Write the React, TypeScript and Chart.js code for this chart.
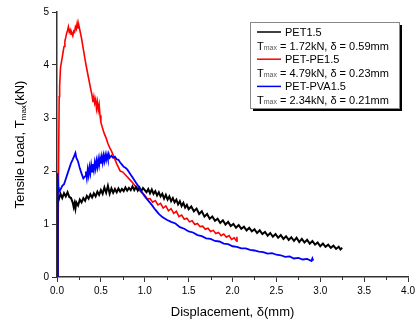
import React, { useEffect, useRef } from "react";
import { Chart, registerables } from "chart.js";

Chart.register(...registerables);

const FONT = "'Liberation Sans', Arial, sans-serif";

const seriesNames = ["PET1.5", "PET-PE1.5", "PET-PVA1.5"];
const seriesColors = ["#000000", "#ff0000", "#0000ff"];
const tmaxValues = ["1.72", "4.79", "2.34"];
const deltaValues = ["0.59", "0.23", "0.21"];

const petX = [0, 0.005, 0.01, 0.02, 0.04, 0.06, 0.08, 0.10, 0.12, 0.14, 0.16, 0.18, 0.19, 0.20, 0.21, 0.22, 0.24, 0.26, 0.28, 0.30, 0.32, 0.34, 0.36, 0.38, 0.40, 0.42, 0.44, 0.46, 0.48, 0.50, 0.52, 0.54, 0.56, 0.58, 0.60, 0.62, 0.64, 0.66, 0.68, 0.70, 0.72, 0.74, 0.76, 0.78, 0.80, 0.82, 0.84, 0.86, 0.88, 0.90, 0.92, 0.94, 0.96, 0.98, 1.00, 1.02, 1.04, 1.06, 1.08, 1.10, 1.12, 1.14, 1.16, 1.18, 1.20, 1.22, 1.24, 1.26, 1.28, 1.30, 1.32, 1.34, 1.36, 1.38, 1.40, 1.42, 1.44, 1.46, 1.48, 1.50, 1.53, 1.56, 1.59, 1.62, 1.65, 1.68, 1.71, 1.74, 1.77, 1.80, 1.83, 1.86, 1.89, 1.92, 1.95, 1.98, 2.01, 2.04, 2.07, 2.10, 2.13, 2.16, 2.19, 2.22, 2.25, 2.28, 2.31, 2.34, 2.37, 2.40, 2.43, 2.46, 2.49, 2.52, 2.55, 2.58, 2.61, 2.64, 2.67, 2.70, 2.73, 2.76, 2.79, 2.82, 2.85, 2.88, 2.91, 2.94, 2.97, 3.00, 3.03, 3.06, 3.09, 3.12, 3.15, 3.18, 3.21, 3.23, 3.25];
const petY = [0, 1.2, 1.52, 1.46, 1.57, 1.49, 1.58, 1.52, 1.60, 1.51, 1.49, 1.40, 1.32, 1.39, 1.29, 1.41, 1.35, 1.46, 1.41, 1.49, 1.44, 1.53, 1.48, 1.56, 1.50, 1.58, 1.52, 1.61, 1.55, 1.64, 1.57, 1.69, 1.59, 1.72, 1.57, 1.67, 1.59, 1.66, 1.60, 1.67, 1.61, 1.66, 1.62, 1.69, 1.63, 1.68, 1.64, 1.71, 1.64, 1.70, 1.63, 1.69, 1.62, 1.68, 1.64, 1.60, 1.66, 1.58, 1.65, 1.57, 1.62, 1.54, 1.60, 1.52, 1.57, 1.48, 1.55, 1.46, 1.52, 1.43, 1.49, 1.41, 1.46, 1.37, 1.43, 1.34, 1.40, 1.31, 1.36, 1.28, 1.33, 1.24, 1.29, 1.19, 1.24, 1.14, 1.19, 1.10, 1.14, 1.06, 1.10, 1.02, 1.07, 0.99, 1.04, 0.96, 1.00, 0.93, 0.98, 0.91, 0.95, 0.88, 0.93, 0.86, 0.90, 0.83, 0.88, 0.81, 0.85, 0.78, 0.83, 0.76, 0.81, 0.74, 0.79, 0.72, 0.77, 0.70, 0.75, 0.68, 0.74, 0.66, 0.72, 0.65, 0.70, 0.63, 0.68, 0.61, 0.65, 0.58, 0.63, 0.57, 0.61, 0.55, 0.59, 0.53, 0.57, 0.52, 0.55];

const pePeX = [0, 0.01, 0.02, 0.025, 0.03, 0.04, 0.05, 0.06, 0.07, 0.08, 0.09, 0.10, 0.11, 0.12, 0.13, 0.14, 0.15, 0.16, 0.17, 0.18, 0.19, 0.20, 0.21, 0.22, 0.23, 0.24, 0.25, 0.26, 0.28, 0.30, 0.32, 0.34, 0.36, 0.38, 0.40, 0.41, 0.42, 0.43, 0.44, 0.45, 0.46, 0.47, 0.48, 0.49, 0.50, 0.52, 0.54, 0.56, 0.58, 0.60, 0.62, 0.64, 0.66, 0.68, 0.70, 0.72, 0.75, 0.80, 0.85, 0.90, 0.95, 1.00, 1.03, 1.06, 1.09, 1.12, 1.15, 1.18, 1.21, 1.24, 1.27, 1.30, 1.33, 1.36, 1.39, 1.42, 1.45, 1.48, 1.51, 1.54, 1.57, 1.60, 1.63, 1.66, 1.69, 1.72, 1.75, 1.78, 1.81, 1.84, 1.87, 1.90, 1.93, 1.96, 1.99, 2.02, 2.04, 2.05, 2.052];
const pePeY = [0, 0.3, 2.5, 3.4, 3.6, 3.95, 4.05, 4.15, 4.25, 4.35, 4.45, 4.52, 4.60, 4.65, 4.72, 4.62, 4.66, 4.58, 4.60, 4.55, 4.64, 4.62, 4.72, 4.68, 4.79, 4.70, 4.74, 4.66, 4.50, 4.30, 4.10, 3.92, 3.75, 3.58, 3.42, 3.30, 3.40, 3.28, 3.35, 3.18, 3.30, 3.15, 3.25, 3.05, 2.92, 2.80, 2.70, 2.62, 2.52, 2.44, 2.38, 2.30, 2.22, 2.14, 2.07, 2.00, 1.98, 1.89, 1.80, 1.70, 1.62, 1.54, 1.47, 1.48, 1.41, 1.44, 1.36, 1.39, 1.30, 1.34, 1.25, 1.29, 1.20, 1.24, 1.14, 1.17, 1.09, 1.11, 1.04, 1.06, 0.99, 1.01, 0.95, 0.96, 0.90, 0.92, 0.86, 0.88, 0.82, 0.84, 0.78, 0.81, 0.75, 0.78, 0.71, 0.74, 0.69, 0.76, 0.66];

const pvaX = [0, 0.005, 0.01, 0.015, 0.02, 0.04, 0.06, 0.08, 0.10, 0.12, 0.14, 0.16, 0.18, 0.20, 0.21, 0.22, 0.24, 0.26, 0.28, 0.30, 0.32, 0.33, 0.34, 0.35, 0.36, 0.37, 0.38, 0.39, 0.40, 0.41, 0.42, 0.43, 0.44, 0.45, 0.46, 0.47, 0.48, 0.49, 0.50, 0.51, 0.52, 0.53, 0.54, 0.55, 0.56, 0.57, 0.58, 0.59, 0.60, 0.62, 0.64, 0.66, 0.68, 0.70, 0.72, 0.74, 0.76, 0.78, 0.80, 0.82, 0.84, 0.86, 0.88, 0.90, 0.92, 0.94, 0.96, 0.98, 1.00, 1.04, 1.08, 1.12, 1.16, 1.20, 1.25, 1.30, 1.35, 1.40, 1.45, 1.50, 1.55, 1.60, 1.65, 1.70, 1.75, 1.80, 1.85, 1.90, 1.95, 2.00, 2.05, 2.10, 2.15, 2.20, 2.25, 2.30, 2.35, 2.40, 2.45, 2.50, 2.55, 2.60, 2.65, 2.70, 2.75, 2.80, 2.85, 2.90, 2.91, 2.92];
const pvaY = [0, 1.0, 1.96, 1.70, 1.60, 1.65, 1.72, 1.75, 1.85, 1.95, 2.05, 2.15, 2.22, 2.30, 2.34, 2.25, 2.18, 2.05, 1.95, 1.86, 1.90, 1.99, 1.87, 2.03, 1.92, 2.07, 1.96, 2.11, 1.99, 2.13, 2.02, 2.16, 2.05, 2.19, 2.08, 2.22, 2.11, 2.24, 2.14, 2.27, 2.16, 2.29, 2.19, 2.30, 2.21, 2.31, 2.23, 2.32, 2.25, 2.29, 2.25, 2.27, 2.22, 2.21, 2.16, 2.12, 2.08, 2.06, 2.03, 1.98, 1.93, 1.88, 1.83, 1.78, 1.73, 1.67, 1.62, 1.57, 1.52, 1.44, 1.36, 1.27, 1.19, 1.13, 1.08, 1.04, 1.01, 0.94, 0.91, 0.86, 0.84, 0.79, 0.77, 0.73, 0.72, 0.68, 0.67, 0.63, 0.62, 0.58, 0.57, 0.54, 0.54, 0.51, 0.50, 0.48, 0.47, 0.44, 0.45, 0.42, 0.41, 0.38, 0.39, 0.35, 0.36, 0.33, 0.34, 0.30, 0.35, 0.31];

const xTickValues = [0, 0.5, 1.0, 1.5, 2.0, 2.5, 3.0, 3.5, 4.0];
const yTickValues = [0, 1, 2, 3, 4, 5];
const xMinorTicks = [0.25, 0.75, 1.25, 1.75, 2.25, 2.75, 3.25, 3.75];

const toPoints = (xs: number[], ys: number[]) => xs.map((x, i) => ({ x, y: ys[i] }));

const AXIS_COLOR = "#333333";

const drawSubText = (
  ctx: CanvasRenderingContext2D,
  parts: { t: string; size: number; sub?: boolean; color?: string }[],
  x: number,
  y: number,
  align: "left" | "center"
) => {
  let total = 0;
  parts.forEach((p) => {
    ctx.font = `${p.size}px ${FONT}`;
    total += ctx.measureText(p.t).width;
  });
  let cx = align === "center" ? x - total / 2 : x;
  ctx.textAlign = "left";
  ctx.textBaseline = "alphabetic";
  parts.forEach((p) => {
    ctx.font = `${p.size}px ${FONT}`;
    ctx.fillStyle = p.color || "#000";
    ctx.fillText(p.t, cx, y + (p.sub ? 2 : 0));
    cx += ctx.measureText(p.t).width;
  });
};

const decorPlugin = {
  id: "decor",
  afterDraw(chart: any) {
    const ctx: CanvasRenderingContext2D = chart.ctx;
    const xs = chart.scales.x;
    const area = chart.chartArea;
    ctx.save();
    ctx.strokeStyle = AXIS_COLOR;
    ctx.lineWidth = 1;
    xMinorTicks.forEach((v) => {
      const px = Math.round(xs.getPixelForValue(v)) + 0.5;
      ctx.beginPath();
      ctx.moveTo(px, area.bottom);
      ctx.lineTo(px, area.bottom + 3);
      ctx.stroke();
    });
    drawSubText(ctx, [{ t: "Displacement, δ(mm)", size: 13 }], (area.left + area.right) / 2, 316, "center");
    ctx.save();
    ctx.translate(24, (area.top + area.bottom) / 2);
    ctx.rotate(-Math.PI / 2);
    drawSubText(
      ctx,
      [
        { t: "Tensile Load, T", size: 13 },
        { t: "max", size: 8, sub: true },
        { t: "(kN)", size: 13 },
      ],
      0,
      0,
      "center"
    );
    ctx.restore();

    const bx = 250, by = 22, bw = 149, bh = 86;
    ctx.fillStyle = "#000";
    ctx.fillRect(bx + 3, by + 3, bw, bh);
    ctx.fillStyle = "#fff";
    ctx.fillRect(bx, by, bw, bh);
    ctx.strokeStyle = "#888";
    ctx.lineWidth = 1;
    ctx.strokeRect(bx + 0.5, by + 0.5, bw, bh);
    const rowH = 13.6;
    seriesNames.forEach((name, i) => {
      const y1 = by + 10 + i * 2 * rowH;
      const y2 = y1 + rowH;
      ctx.strokeStyle = seriesColors[i];
      ctx.lineWidth = 1.5;
      ctx.beginPath();
      ctx.moveTo(257, y1);
      ctx.lineTo(281, y1);
      ctx.stroke();
      drawSubText(ctx, [{ t: name, size: 11 }], 285, y1 + 4, "left");
      drawSubText(
        ctx,
        [
          { t: "T", size: 11 },
          { t: "max", size: 7, color: "#555" },
          { t: ` = ${tmaxValues[i]}kN, δ = ${deltaValues[i]}mm`, size: 11 },
        ],
        257,
        y2 + 4,
        "left"
      );
    });
    ctx.restore();
  },
};

export default function App() {
  const ref = useRef<HTMLCanvasElement | null>(null);
  useEffect(() => {
    if (!ref.current) return;
    const widths = [2, 1.6, 1.8];
    const datasets = [
      toPoints(petX, petY),
      toPoints(pePeX, pePeY),
      toPoints(pvaX, pvaY),
    ].map((data, i) => ({
      label: seriesNames[i],
      data,
      borderColor: seriesColors[i],
      backgroundColor: seriesColors[i],
      borderWidth: widths[i],
      pointRadius: 0,
      showLine: true,
      fill: false,
      tension: 0,
    }));
    const chart = new Chart(ref.current, {
      type: "scatter",
      data: { datasets: [datasets[2], datasets[0], datasets[1]] },
      options: {
        responsive: false,
        animation: false,
        layout: { padding: { top: 12, right: 9, left: 0, bottom: 0 } },
        plugins: { legend: { display: false }, tooltip: { enabled: false } },
        scales: {
          x: {
            type: "linear",
            min: 0,
            max: 4,
            afterFit: (s: any) => {
              s.height = 44;
            },
            afterBuildTicks: (s: any) => {
              s.ticks = xTickValues.map((v) => ({ value: v }));
            },
            ticks: {
              callback: (v: any) => Number(v).toFixed(1),
              font: { family: FONT, size: 10 },
              color: "#000",
              padding: 3,
              maxRotation: 0,
            },
            grid: { drawOnChartArea: false, drawTicks: true, tickLength: 5, color: AXIS_COLOR, lineWidth: 1 },
            border: { display: true, color: AXIS_COLOR, width: 1.5 },
          },
          y: {
            type: "linear",
            min: 0,
            max: 5,
            afterFit: (s: any) => {
              s.width = 57;
            },
            afterBuildTicks: (s: any) => {
              s.ticks = yTickValues.map((v) => ({ value: v }));
            },
            ticks: {
              callback: (v: any) => String(v),
              font: { family: FONT, size: 10 },
              color: "#000",
              padding: 3,
            },
            grid: { drawOnChartArea: false, drawTicks: true, tickLength: 5, color: AXIS_COLOR, lineWidth: 1 },
            border: { display: true, color: AXIS_COLOR, width: 1.5 },
          },
        },
      },
      plugins: [decorPlugin],
    });
    return () => chart.destroy();
  }, []);
  return (
    <div style={{ position: "fixed", left: 0, top: 0, width: 418, height: 321, background: "#fff" }}>
      <canvas ref={ref} width={418} height={321} style={{ display: "block", width: 418, height: 321 }} />
    </div>
  );
}
